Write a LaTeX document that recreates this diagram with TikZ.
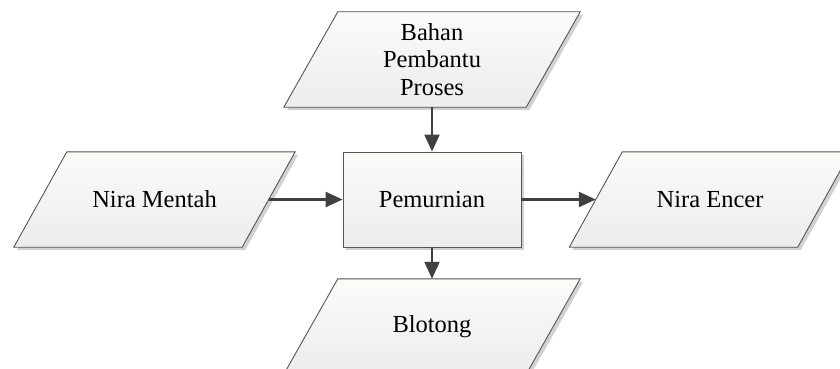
\documentclass[tikz,border=0pt]{standalone}
\usepackage{fontspec}
\setmainfont{Liberation Serif}
\usetikzlibrary{arrows.meta,shadows,backgrounds}

\definecolor{edgegray}{HTML}{555555}
\definecolor{flowgray}{HTML}{404040}
\definecolor{filltop}{HTML}{FBFBFA}
\definecolor{fillbot}{HTML}{ECECEC}

\tikzset{
  boxfill/.style={draw=edgegray, line width=0.9pt, top color=filltop, bottom color=fillbot,
    drop shadow={shadow xshift=3pt, shadow yshift=-3pt, opacity=0.18, fill=black}},
  boxtext/.style={inner sep=0pt, align=center, text=black, minimum height=95pt,
    font=\fontsize{24.5pt}{27.5pt}\selectfont},
  procbox/.style={boxtext, boxfill, rectangle, minimum width=178pt},
  iobox/.style={boxtext, rectangle},
  flow/.style={draw=flowgray, line width=2.2pt, -{Triangle[length=17pt,width=15pt]}}
}

% parallelogram (data symbol) around a named node, half slant #2
\newcommand\dataframe[2]{%
  \path[boxfill] ([xshift=#2]#1.north west) -- ([xshift=#2]#1.north east)
    -- ([xshift=-#2]#1.south east) -- ([xshift=-#2]#1.south west) -- cycle;}

\begin{document}
\begin{tikzpicture}[x=1pt, y=-1pt]
  \useasboundingbox (0,0) rectangle (840,369);
  \clip (0,0) rectangle (840,369);

  % process and its inputs / outputs
  \node[procbox] (pm) at (432,199.5) {Pemurnian};
  \node[iobox, minimum width=242pt] (bp) at (432,59.5) {Bahan\\Pembantu\\Proses};
  \node[iobox, minimum width=228pt] (nm) at (154.5,199.5) {Nira Mentah};
  \node[iobox, minimum width=228pt] (ne) at (710,199.5) {Nira Encer};
  \node[iobox, minimum width=242pt] (bl) at (432,326.5) {Blotong};

  \begin{scope}[on background layer]
    \fill[white] (0,0) rectangle (840,369);
    \dataframe{bp}{27pt}
    \dataframe{nm}{26.5pt}
    \dataframe{ne}{26.5pt}
    \dataframe{bl}{27pt}
  \end{scope}

  % material flow
  \draw[flow] (bp.south) -- (pm.north);
  \draw[flow] (nm.east) -- (pm.west);
  \draw[flow] (pm.east) -- (ne.west);
  \draw[flow] (pm.south) -- (bl.north);
\end{tikzpicture}
\end{document}
